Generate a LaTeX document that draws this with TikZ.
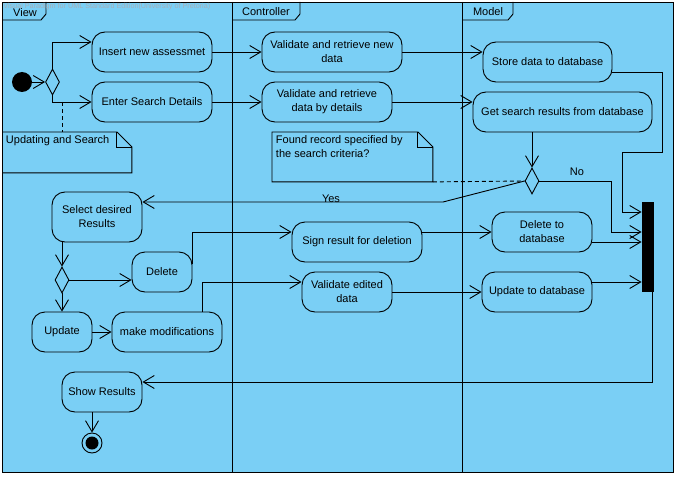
\documentclass[tikz,border=0pt]{standalone}
\usepackage{fontspec}
\setmainfont{Liberation Sans}
\usepackage{xcolor}
\usetikzlibrary{arrows.meta,shapes.geometric}
\definecolor{lanebg}{RGB}{122,207,245}
\definecolor{wmark}{RGB}{165,175,185}

\begin{document}
\begin{tikzpicture}[x=1pt,y=-1pt,line width=0.9pt,
    font=\fontsize{11}{14}\selectfont,
    act/.style={draw,fill=lanebg,rounded corners=13pt,align=center,
                inner sep=2pt,minimum height=40pt},
    dec/.style={draw,fill=lanebg,diamond,inner sep=0pt,
                minimum width=14pt,minimum height=26pt},
    notebox/.style={anchor=north west,inner sep=0pt},
    notetext/.style={anchor=north west,align=left,inner sep=3.5pt},
    flow/.style={-{Straight Barb[length=11pt,width=13pt]}},
    memo/.style={dash pattern=on 4pt off 3pt}]
    \useasboundingbox (0,0) rectangle (676,476);
    \fill[white] (0,0) rectangle (676,476);
    \draw[fill=lanebg] (2,2) rectangle (673,472);
    \draw (232,2) -- (232,472) (462,2) -- (462,472);
    \draw (2,20) -- (41,20) -- (46,14) -- (46,2);
    \draw (232,20) -- (295,20) -- (300,14) -- (300,2);
    \draw (462,20) -- (508,20) -- (513,14) -- (513,2);
    \node[font=\fontsize{7.2}{8}\selectfont,text=wmark,anchor=west,inner sep=0pt] (wm) at (3,7)
        {Visual Paradigm for UML Standard Edition(University of Pretoria)};
    \node (view) at (25,12.5) {View};
    \node (ctrl) at (266,12) {Controller};
    \node (model) at (488,12) {Model};

    \node[circle,fill,inner sep=0pt,minimum size=20pt] (start) at (22,82) {};
    \node[dec] (dec1) at (52.5,82) {};
    \node[act,minimum width=120pt] (insert) at (152,52) {Insert new assessmet};
    \node[act,minimum width=120pt] (search) at (152,102) {Enter Search Details};
    \node[act,minimum width=140pt] (valnew) at (332,52) {Validate and retrieve new\\data};
    \node[act,minimum width=130pt] (valdet) at (327,102) {Validate and retrieve\\data by details};
    \node[act,minimum width=129pt] (store) at (547.5,62) {Store data to database};
    \node[act,minimum width=179pt] (getres) at (562.5,112) {Get search results from database};
    \node[dec] (dec2) at (532,181) {};
    \node[act,minimum width=90pt,minimum height=50pt] (select) at (97,217) {Select desired\\Results};
    \node[dec] (dec3) at (62,280) {};
    \node[act,minimum width=60pt] (delete) at (162,272) {Delete};
    \node[act,minimum width=60pt] (update) at (62,332) {Update};
    \node[act,minimum width=110pt] (modif) at (167,332) {make modifications};
    \node[act,minimum width=130pt] (sign) at (357,242) {Sign result for deletion};
    \node[act,minimum width=90pt] (valedit) at (347,292) {Validate edited\\data};
    \node[act,minimum width=100pt] (deldb) at (542,232) {Delete to\\database};
    \node[act,minimum width=110pt] (upddb) at (537,292) {Update to database};
    \node[fill,inner sep=0pt,minimum width=12pt,minimum height=90pt] (bar) at (648,247) {};
    \node[act,minimum width=80pt] (show) at (102,392) {Show Results};
    \node[circle,draw,inner sep=0pt,minimum size=20pt,
          path picture={\fill (path picture bounding box.center) circle (6.5pt);}] (final) at (92,443) {};

    \node[notebox,minimum width=129pt,minimum height=40pt,
          label={[notetext]north west:Updating and Search}] (note1) at (2,132) {};
    \draw (note1.north west) -- ([xshift=-15pt]note1.north east) -- ([yshift=-15pt]note1.north east)
        -- (note1.south east) -- (note1.south west);
    \draw ([xshift=-15pt]note1.north east) |- ([yshift=-15pt]note1.north east);
    \node[notebox,minimum width=160pt,minimum height=49pt,
          label={[notetext]north west:{Found record specified by\\the search criteria?}}] (note2) at (272,132) {};
    \draw (note2.north west) -- ([xshift=-15pt]note2.north east) -- ([yshift=-15pt]note2.north east)
        -- (note2.south east) -- (note2.south west) -- cycle;
    \draw ([xshift=-15pt]note2.north east) |- ([yshift=-15pt]note2.north east);

    \draw[flow] (start) -- (dec1);
    \draw[flow] (dec1.north) |- ([yshift=10pt]insert.west);
    \draw[flow] (dec1.south) |- (search.west);
    \coordinate (tap) at (62,102);
    \draw[memo] (tap) -- (tap |- note1.north);
    \draw[flow] (insert.east) -- (valnew.west);
    \draw[flow] (search.east) -- (valdet.west);
    \draw[flow] (valnew.east) -- (store.west |- valnew.east);
    \draw[flow] (valdet.east) -- (getres.west |- valdet.east);
    \draw[flow] (dec2.north |- getres.south) -- (dec2.north);
    \draw[memo] (note2.south east) -- (dec2.west);
    \draw[flow] (dec2.east) -| ([xshift=-30pt,yshift=15pt]bar.west) -- ([yshift=15pt]bar.west);
    \node (nolbl) at (577,172) {No};
    \draw[flow] ([yshift=-10pt]store.east) -- ++(50,0) |- ++(-40,80) |- ([yshift=35pt]bar.west);
    \draw[flow] ([yshift=-10pt]deldb.east) -- ([yshift=-10pt]deldb.east -| bar.west);
    \draw[flow] ([yshift=10pt]upddb.east) -- ([yshift=10pt]upddb.east -| bar.west);
    \draw[flow] ([xshift=4pt]bar.south) |- ([yshift=10pt]show.east);
    \coordinate (yesbend) at (443,202);
    \draw[flow] (dec2.west) -- (yesbend) -- (yesbend -| select.east);
    \node (yeslbl) at (331,199) {Yes};
    \draw[flow] (dec3.north |- select.south) -- (dec3.north);
    \draw[flow] (dec3.east) -- (delete.west |- dec3.east);
    \draw[flow] (dec3.south) -- (update.north);
    \draw[flow] (update.east) -- (modif.west);
    \draw[flow] ([yshift=8pt]delete.east) |- ([yshift=10pt]sign.west);
    \draw[flow] (deldb.west -| sign.east) -- (deldb.west);
    \draw[flow] ([xshift=35pt]modif.north) |- ([yshift=10pt]valedit.west);
    \draw[flow] (valedit.east) -- (upddb.west);
    \draw[flow] ([xshift=-10pt]show.south) -- (final.north);
\end{tikzpicture}
\end{document}
